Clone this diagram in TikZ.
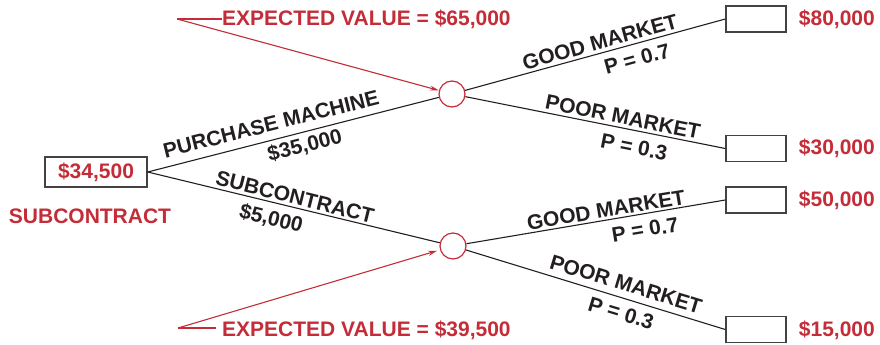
\documentclass[tikz,border=0pt]{standalone}
\usepackage{fontspec}
\setmainfont{Liberation Sans}
\usetikzlibrary{arrows.meta}
\definecolor{dtred}{RGB}{196,44,56}
\definecolor{dtblack}{RGB}{35,31,32}
\begin{document}
\begin{tikzpicture}[x=1pt,y=-1pt,
  lbl/.style={font=\fontsize{21}{21}\selectfont\bfseries, inner sep=0pt, text=dtblack},
  redlbl/.style={font=\fontsize{21}{21}\selectfont\bfseries, inner sep=0pt, text=dtred},
  paybox/.style={draw=dtblack!85, line width=1.4pt, minimum width=60, minimum height=26, inner sep=0pt},
  chance/.style={circle, draw=dtred, line width=1.2pt, minimum size=26, inner sep=0pt, fill=white},
  branch/.style={draw=dtblack, line width=1.1pt},
  callout/.style={draw=dtred, line width=1.1pt},
  calloutarrow/.style={callout, -{Stealth[length=9pt,width=5pt]}}
]
\useasboundingbox (0,0) rectangle (880,345);
% decision box
\node[paybox, minimum width=102, minimum height=30] (b0) at (96,172) {};
\node[redlbl] (v0) at (96,172) {\$34,500};
\node[redlbl] (dec) at (90,216) {SUBCONTRACT};
% chance nodes
\node[chance] (c1) at (452,94) {};
\node[chance] (c2) at (453,246) {};
% payoff boxes
\node[paybox] (b1) at (756,19) {};
\node[paybox] (b2) at (756,148.5) {};
\node[paybox] (b3) at (756,200) {};
\node[paybox] (b4) at (756,329.5) {};
\node[redlbl, anchor=east] (p1) at (875,19) {\$80,000};
\node[redlbl, anchor=east] (p2) at (875,148) {\$30,000};
\node[redlbl, anchor=east] (p3) at (875,200) {\$50,000};
\node[redlbl, anchor=east] (p4) at (875,330) {\$15,000};
% branches
\draw[branch] (b0.east) -- (c1);
\draw[branch] (b0.east) -- (c2);
\draw[branch] (c1) -- (b1.west);
\draw[branch] (c1) -- (b2.west);
\draw[branch] (c2) -- (b3.west);
\draw[branch] (c2) -- (b4.west);
% branch labels
\node[lbl, rotate=14.1] (l1) at (271,124) {PURCHASE MACHINE};
\node[lbl, rotate=14.1] (l2) at (305,146) {\$35,000};
\node[lbl, rotate=-14] (l3) at (295,197) {SUBCONTRACT};
\node[lbl, rotate=-14] (l4) at (271,219) {\$5,000};
\node[lbl, rotate=15.4] (l5) at (600,42) {GOOD MARKET};
\node[lbl, rotate=15.4] (l6) at (637,59) {P = 0.7};
\node[lbl, rotate=-11.3] (l7) at (623,117) {POOR MARKET};
\node[lbl, rotate=-11.3] (l8) at (634,147) {P = 0.3};
\node[lbl, rotate=9.4] (l9) at (606,210) {GOOD MARKET};
\node[lbl, rotate=9.4] (l10) at (645,229.5) {P = 0.7};
\node[lbl, rotate=-16.9] (l11) at (626,284) {POOR MARKET};
\node[lbl, rotate=-16.9] (l12) at (621,313) {P = 0.3};
% expected value callouts
\coordinate (e1) at (177,19);
\coordinate (e2) at (178,328);
\node[redlbl, anchor=west] (ev1) at (222,19.5) {EXPECTED VALUE = \$65,000};
\node[redlbl, anchor=west] (ev2) at (222,330.5) {EXPECTED VALUE = \$39,500};
\draw[callout] (e1) -- (ev1.west |- e1) ++(-5,0);
\draw[callout] (e2) -- ([xshift=-6pt]ev2.west |- e2);
\draw[calloutarrow] (e1) -- (c1);
\draw[calloutarrow, shorten >=3pt] (e2) -- (c2);
\end{tikzpicture}
\end{document}
